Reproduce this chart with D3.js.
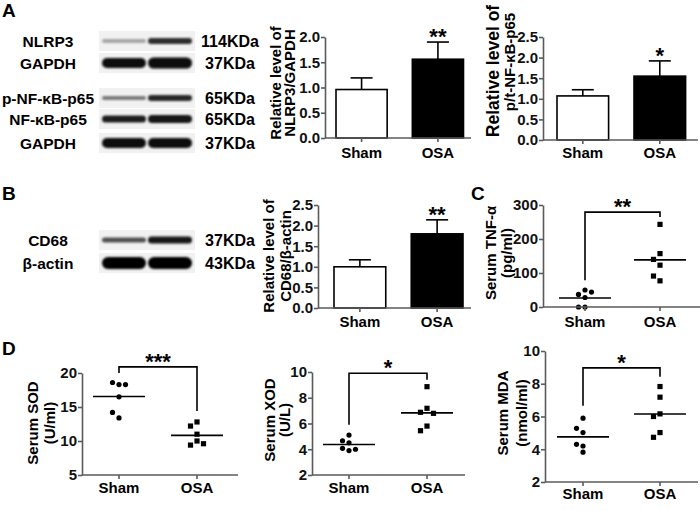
<!DOCTYPE html>
<html>
<head>
<meta charset="utf-8">
<script src="https://cdn.jsdelivr.net/npm/d3@7"></script>
<style>
  body { margin: 0; background: #fff; }
  svg { display: block; font-family: "Liberation Sans", Arial, sans-serif; font-weight: bold; }
</style>
</head>
<body>
<svg id="fig" width="700" height="511"></svg>
<script>
// ---- data ----
var groups = ["Sham", "OSA"];

// western blots (band darkness 0..1 for Sham, OSA)
var blotLabelsA = ["NLRP3", "GAPDH", "p-NF-κB-p65", "NF-κB-p65", "GAPDH"];
var blotSizesA = ["114KDa", "37KDa", "65KDa", "65KDa", "37KDa"];
var blotDensA = [[0.45, 0.85], [0.97, 0.97], [0.6, 0.88], [0.9, 0.92], [0.97, 0.97]];
var blotLabelsB = ["CD68", "β-actin"];
var blotSizesB = ["37KDa", "43KDa"];
var blotDensB = [[0.75, 0.92], [0.98, 0.98]];

// bar charts: mean and SEM
var nlrp3Mean = [0.96, 1.56], nlrp3Sem = [0.23, 0.34];
var p65Mean = [1.07, 1.55], p65Sem = [0.15, 0.37];
var cd68Mean = [1.0, 1.80], cd68Sem = [0.17, 0.34];

// scatter plots: individual animals
var tnfSham = [50, 37, 44, 28, 0, 0], tnfOSA = [243, 157, 140, 123, 77, 91];
var sodSham = [18.3, 18.6, 18.3, 16.5, 13.4, 14.2], sodOSA = [12.8, 12.2, 11.0, 10.0, 9.4, 9.6];
var xodSham = [5.1, 4.5, 4.66, 3.9, 4.07, 4.0], xodOSA = [8.86, 7.18, 6.87, 6.79, 5.8, 5.44];
var mdaSham = [5.9, 5.02, 5.28, 4.2, 4.3, 3.82], mdaOSA = [7.83, 7.18, 6.16, 6.0, 5.02, 4.73];

var svg = d3.select("#fig");
var axisColor = "#5a5a5a";
var fsTick = 15;

function styleAxis(g, fs) {
	g.select(".domain").attr("stroke", axisColor).attr("stroke-width", 1.6);
	g.selectAll(".tick line").attr("stroke", axisColor).attr("stroke-width", 1.6);
	g.selectAll(".tick text").attr("fill", "#111").style("font-size", fs + "px").style("font-weight", "bold")
		.style("font-family", "'Liberation Sans', Arial, sans-serif");
}

function panelLetter(t, x, y) {
	svg.append("text").attr("x", x).attr("y", y).style("font-size", "19px").text(t);
}

// each title line: [text, baseline x, centre y, font size]
function yTitle(lines) {
	lines.forEach(function (l) {
		svg.append("text")
			.attr("transform", `translate(${l[1]},${l[2]}) rotate(-90)`)
			.attr("text-anchor", "middle")
			.style("font-size", (l[3] || 15) + "px")
			.text(l[0]);
	});
}

function xAxis(x, yPos, x0, x1, labelY) {
	var g = svg.append("g");
	g.append("line").attr("x1", x0).attr("x2", x1).attr("y1", yPos).attr("y2", yPos)
		.attr("stroke", axisColor).attr("stroke-width", 1.6);
	groups.forEach(function (k) {
		var cx = x(k) + (x.bandwidth ? x.bandwidth() / 2 : 0);
		g.append("line").attr("x1", cx).attr("x2", cx).attr("y1", yPos).attr("y2", yPos + 4)
			.attr("stroke", axisColor).attr("stroke-width", 1.6);
		g.append("text").attr("x", cx).attr("y", labelY).attr("text-anchor", "middle")
			.style("font-size", fsTick + "px").text(k);
	});
}

function blot(labels, sizes, dens, rowsY, thick) {
	var lane = d3.scaleBand().domain(groups).range([101, 193]);
	rowsY.forEach(function (cy, i) {
		svg.append("rect").attr("x", 99).attr("y", cy - 10).attr("width", 96).attr("height", 20)
			.attr("fill", "#f1f1f1");
		groups.forEach(function (k, j) {
			var h = thick[i][j];
			svg.append("rect")
				.attr("x", lane(k) + 1).attr("width", lane.bandwidth() - 2)
				.attr("y", cy - h / 2).attr("height", h).attr("rx", h / 2)
				.attr("fill", d3.interpolateGreys(dens[i][j]))
				.attr("filter", "url(#blur)");
		});
		svg.append("text").attr("x", 48).attr("y", cy + 6).attr("text-anchor", "middle")
			.style("font-size", "15.5px").text(labels[i]);
		svg.append("text").attr("x", 230).attr("y", cy + 6).attr("text-anchor", "middle")
			.style("font-size", "16px").text(sizes[i]);
	});
}

function barChart(c) {
	var y = d3.scaleLinear().domain([0, c.max]).range([c.y0, c.y1]);
	var x = d3.scaleBand().domain(groups).range(c.bars).paddingInner(0.33);

	svg.append("g").attr("transform", `translate(${c.ax},0)`)
		.call(d3.axisLeft(y).tickValues(d3.range(0, c.max + 0.01, 0.5))
			.tickFormat(d3.format(".1f")).tickSize(4).tickSizeOuter(0).tickPadding(1))
		.call(g => styleAxis(g, fsTick));

	var bars = svg.append("g");
	groups.forEach(function (k, i) {
		var cx = x(k) + x.bandwidth() / 2;
		var top = y(c.mean[i] + c.sem[i]);
		bars.append("line").attr("x1", cx).attr("x2", cx).attr("y1", y(c.mean[i])).attr("y2", top)
			.attr("stroke", "#000").attr("stroke-width", 1.6);
		bars.append("line").attr("x1", cx - 11).attr("x2", cx + 11).attr("y1", top).attr("y2", top)
			.attr("stroke", "#000").attr("stroke-width", 1.6);
		bars.append("rect").attr("x", x(k)).attr("width", x.bandwidth())
			.attr("y", y(c.mean[i])).attr("height", y(0) - y(c.mean[i]))
			.attr("fill", i ? "#000" : "#fff").attr("stroke", "#000").attr("stroke-width", 1.6);
	});
	var osaX = x("OSA") + x.bandwidth() / 2;
	svg.append("text").attr("x", osaX).attr("y", y(c.mean[1] + c.sem[1]) + 2)
		.attr("text-anchor", "middle").style("font-size", "22px").text(c.stars);

	xAxis(x, c.y0, c.ax, c.axEnd, c.labelY);
	yTitle(c.title);
}

// spread points sideways where they would overlap, like GraphPad does
function spread(vals, y, step) {
	var placed = [];
	return vals.map(function (v) {
		var py = y(v), slots = [0, -1, 1, -2, 2], s = 0;
		for (var k = 0; k < slots.length; k++) {
			var hit = placed.some(p => p.slot === slots[k] && Math.abs(p.py - py) < 6);
			if (!hit) { s = slots[k]; break; }
		}
		placed.push({ py: py, slot: s });
		return { v: v, off: s * step };
	});
}

function scatter(c) {
	var y = d3.scaleLinear().domain(c.domain).range([c.y0, c.y1]);
	var x = d3.scalePoint().domain(groups).range(c.pts);

	svg.append("g").attr("transform", `translate(${c.ax},0)`)
		.call(d3.axisLeft(y).tickValues(c.ticks).tickSize(4).tickSizeOuter(0).tickPadding(1))
		.call(g => styleAxis(g, fsTick));

	var g = svg.append("g");
	[c.sham, c.osa].forEach(function (vals, i) {
		var cx = x(groups[i]);
		spread(vals, y, 6.5).forEach(function (p) {
			if (i === 0) {
				g.append("circle").attr("cx", cx + p.off).attr("cy", y(p.v)).attr("r", 2.6).attr("fill", "#000");
			} else {
				g.append("rect").attr("x", cx + p.off - 2.6).attr("y", y(p.v) - 2.6)
					.attr("width", 5.2).attr("height", 5.2).attr("fill", "#000");
			}
		});
		var m = y(d3.mean(vals));
		g.append("line").attr("x1", cx - 26).attr("x2", cx + 26).attr("y1", m).attr("y2", m)
			.attr("stroke", "#000").attr("stroke-width", 1.6);
	});

	// significance bracket
	var b = c.bracket, xs = x("Sham"), xo = x("OSA");
	svg.append("path")
		.attr("d", `M${xs},${y(b[1])}V${y(b[0])}H${xo}V${y(b[2])}`)
		.attr("fill", "none").attr("stroke", "#000").attr("stroke-width", 1.6);
	svg.append("text").attr("x", (xs + xo) / 2).attr("y", y(b[0]) + 2)
		.attr("text-anchor", "middle").style("font-size", "22px").text(c.stars);

	xAxis(x, c.y0, c.ax, c.axEnd, c.labelY);
	yTitle(c.title);
}

// blur filter for the blot bands
svg.append("defs").append("filter").attr("id", "blur")
	.attr("x", "-20%").attr("y", "-100%").attr("width", "140%").attr("height", "300%")
	.append("feGaussianBlur").attr("stdDeviation", 1.2);

// ---- panel A ----
panelLetter("A", 2, 17);
blot(blotLabelsA, blotSizesA, blotDensA, [41, 63, 98, 119, 143],
	[[4, 6], [10, 11], [4, 6], [7, 8], [10, 10]]);
barChart({ max: 2, y0: 138, y1: 37, ax: 325, axEnd: 471, bars: [336, 463.5], labelY: 158,
	mean: nlrp3Mean, sem: nlrp3Sem, stars: "**",
	title: [["Relative level of", 281, 83], ["NLRP3/GAPDH", 295, 83]] });
barChart({ max: 2.5, y0: 140, y1: 37, ax: 543, axEnd: 698, bars: [557, 685.6], labelY: 158,
	mean: p65Mean, sem: p65Sem, stars: "*",
	title: [["Relative level of", 499, 71, 17.5], ["p/t-NF-κB-p65", 515, 62]] });

// ---- panel B ----
panelLetter("B", 2, 200);
blot(blotLabelsB, blotSizesB, blotDensB, [240, 263], [[5, 7], [12, 12]]);
barChart({ max: 2.5, y0: 308, y1: 205, ax: 318, axEnd: 471, bars: [334, 463], labelY: 327,
	mean: cd68Mean, sem: cd68Sem, stars: "**",
	title: [["Relative level of", 274, 256], ["CD68/β-actin", 291, 256]] });

// ---- panel C ----
panelLetter("C", 471, 200);
scatter({ domain: [0, 300], ticks: [0, 100, 200, 300], y0: 307, y1: 205, ax: 543, axEnd: 700,
	pts: [585, 660], labelY: 327, sham: tnfSham, osa: tnfOSA, bracket: [279, 79, 265], stars: "**",
	title: [["Serum TNF-α", 496, 253], ["(pg/ml)", 512, 253]] });

// ---- panel D ----
panelLetter("D", 2, 355);
scatter({ domain: [5, 20], ticks: [5, 10, 15, 20], y0: 475, y1: 373, ax: 82, axEnd: 238,
	pts: [119, 197], labelY: 493, sham: sodSham, osa: sodOSA, bracket: [20.9, 20.0, 14.4], stars: "***",
	title: [["Serum SOD", 38, 423], ["(U/ml)", 55, 423]] });
scatter({ domain: [2, 10], ticks: [2, 4, 6, 8, 10], y0: 475, y1: 372, ax: 312, axEnd: 465,
	pts: [349, 427], labelY: 493, sham: xodSham, osa: xodOSA, bracket: [9.9, 5.9, 9.4], stars: "*",
	title: [["Serum XOD", 275, 420], ["(U/L)", 290, 420]] });
scatter({ domain: [2, 10], ticks: [2, 4, 6, 8, 10], y0: 482, y1: 351, ax: 545, axEnd: 698,
	pts: [583, 660], labelY: 499, sham: mdaSham, osa: mdaOSA, bracket: [8.97, 6.65, 8.42], stars: "*",
	title: [["Serum MDA", 508, 413], ["(nmol/ml)", 527, 413]] });
</script>
</body>
</html>
